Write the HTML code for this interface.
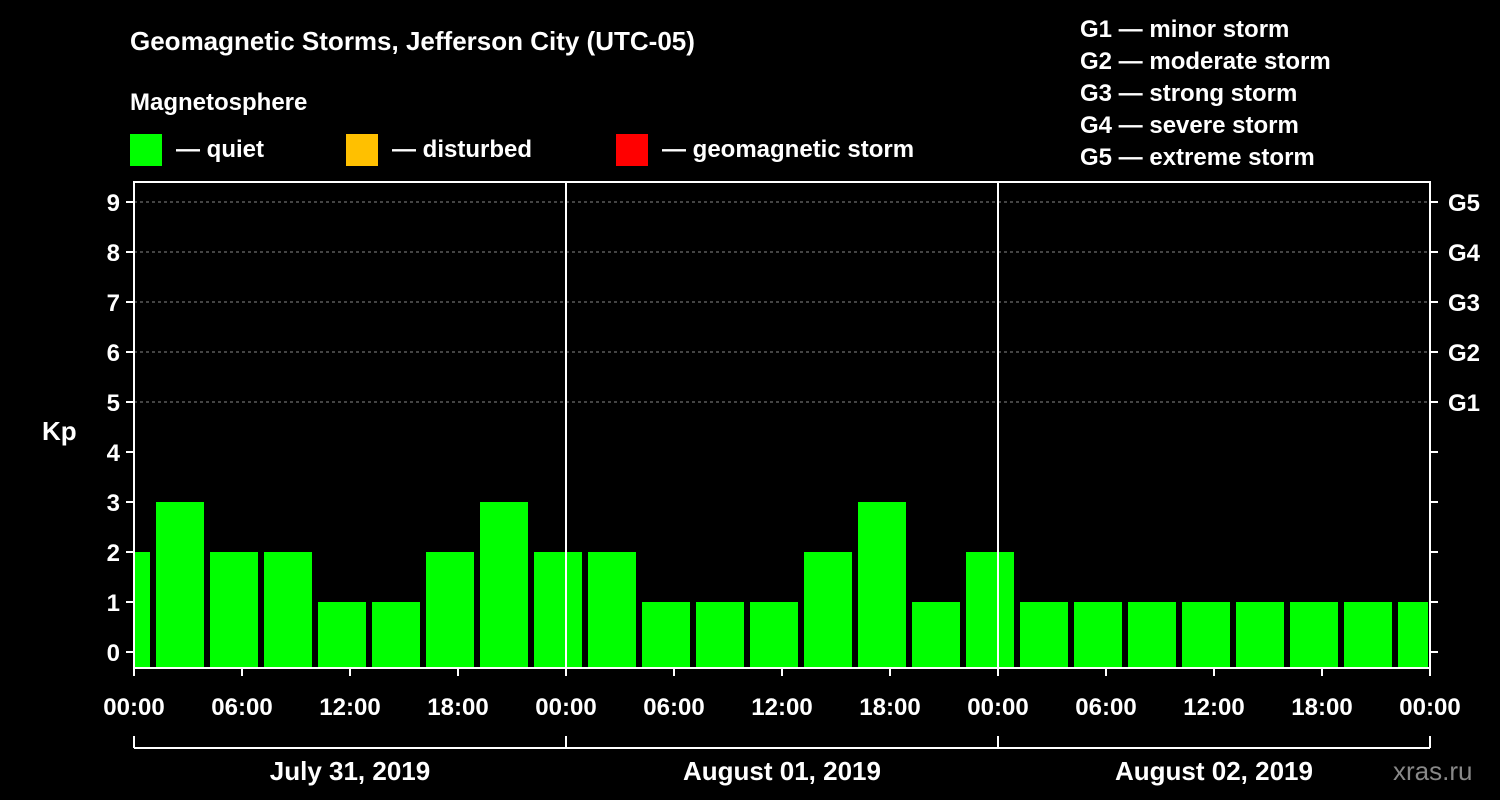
<!DOCTYPE html>
<html><head><meta charset="utf-8"><style>
body{margin:0;background:#000;}
svg{display:block;font-family:"Liberation Sans",Arial,sans-serif;font-weight:bold;}
</style></head><body>
<svg id="c" width="1500" height="800" viewBox="0 0 1500 800">
<rect width="1500" height="800" fill="#000"/>
<text x="130" y="50" fill="#fff" font-size="26">Geomagnetic Storms, Jefferson City (UTC-05)</text>
<text x="130" y="110" fill="#fff" font-size="24">Magnetosphere</text>
<g><rect x="130" y="134" width="32" height="32" fill="#00ff00"/><text x="176" y="157" fill="#fff" font-size="24">— quiet</text></g>
<g><rect x="346" y="134" width="32" height="32" fill="#ffc000"/><text x="392" y="157" fill="#fff" font-size="24">— disturbed</text></g>
<g><rect x="616" y="134" width="32" height="32" fill="#ff0000"/><text x="662" y="157" fill="#fff" font-size="24">— geomagnetic storm</text></g>
<g fill="#fff" font-size="24">
<text x="1080" y="37">G1 — minor storm</text>
<text x="1080" y="69">G2 — moderate storm</text>
<text x="1080" y="101">G3 — strong storm</text>
<text x="1080" y="133">G4 — severe storm</text>
<text x="1080" y="165">G5 — extreme storm</text>
</g>
<text x="42" y="440" fill="#fff" font-size="26">Kp</text>
<text x="1393" y="780" fill="#888" font-size="26" font-weight="normal">xras.ru</text>
<g id="plot"></g>
</svg>
<script>
const kpValues=[2,3,2,2,1,1,2,3,2,2,1,1,1,2,3,1,2,1,1,1,1,1,1,1,1];
const dayLabels=["July 31, 2019","August 01, 2019","August 02, 2019"];
const hourLabels=["00:00","06:00","12:00","18:00"];
const gLabels=["G1","G2","G3","G4","G5"];
const NS="http://www.w3.org/2000/svg";
const g=document.getElementById('plot');
const X0=134,PXH=432/24,Y0=652,PXK=50,TOP=182,BOT=668,X1=1430;
const xs=h=>X0+h*PXH, ys=k=>Y0-k*PXK;
function el(t,a,txt){const e=document.createElementNS(NS,t);for(const k in a)e.setAttribute(k,a[k]);if(txt!==undefined)e.textContent=txt;g.appendChild(e);return e;}
// grid
for(let k=5;k<=9;k++){const l=el('line',{x1:X0,x2:X1,y1:ys(k),y2:ys(k),stroke:'#888','stroke-dasharray':'3,3'});

}
// bars
kpValues.forEach((v,i)=>{let s=xs(-2+3*i)+4,e=xs(1+3*i)-2;s=Math.max(s,X0+1);e=Math.min(e,X1-2);
const r=el('rect',{x:s,y:ys(v),width:e-s,height:BOT-ys(v),fill:v>=5?'#ff0000':(v>=4?'#ffc000':'#00ff00')});

});
// frame
const f=el('rect',{x:X0,y:TOP,width:X1-X0,height:BOT-TOP,fill:'none',stroke:'#fff','stroke-width':2});


for(let d=1;d<3;d++){const l=el('line',{x1:xs(24*d),x2:xs(24*d),y1:TOP,y2:BOT,stroke:'#fff','stroke-width':2});

}
// y ticks
for(let k=0;k<=9;k++){
el('line',{x1:X0-8,x2:X0,y1:ys(k),y2:ys(k),stroke:'#fff','stroke-width':2});
el('line',{x1:X1,x2:X1+8,y1:ys(k),y2:ys(k),stroke:'#fff','stroke-width':2});
const t=el('text',{x:X0-14,y:ys(k)+9,fill:'#fff','font-size':24,'text-anchor':'end'},String(k));

}
gLabels.forEach((s,i)=>{const t=el('text',{x:1448,y:ys(5+i)+9,fill:'#fff','font-size':24},s);

});
// x ticks
for(let h=0;h<=72;h+=6){el('line',{x1:xs(h),x2:xs(h),y1:BOT,y2:BOT+8,stroke:'#fff','stroke-width':2});
const t=el('text',{x:xs(h),y:715,fill:'#fff','font-size':24,'text-anchor':'middle'},hourLabels[(h/6)%4]);

}
el('line',{x1:X0,x2:X1,y1:748,y2:748,stroke:'#fff','stroke-width':2});
for(let d=0;d<=3;d++)el('line',{x1:xs(24*d),x2:xs(24*d),y1:736,y2:748,stroke:'#fff','stroke-width':2});
dayLabels.forEach((s,i)=>{const t=el('text',{x:xs(24*i+12),y:780,fill:'#fff','font-size':26,'text-anchor':'middle'},s);

});
</script>
</body></html>
